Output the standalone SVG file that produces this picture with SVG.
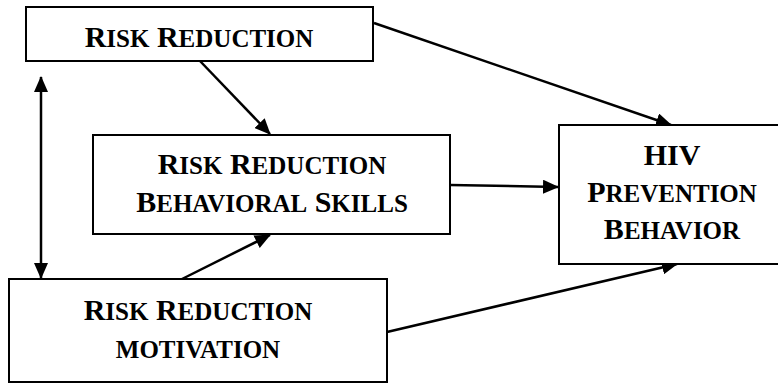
<svg xmlns="http://www.w3.org/2000/svg" width="778" height="383" viewBox="0 0 778 383">
<defs>
<style>
.box{fill:#fff;stroke:#000;stroke-width:2}
.lbl{font-family:"Liberation Serif","Times New Roman",serif;font-weight:bold;font-size:30px;fill:#000;text-anchor:middle}
.sc{font-size:25px}
.conn{stroke:#000;stroke-width:2.5;fill:none;marker-end:url(#ah)}
</style>
<marker id="ah" markerUnits="userSpaceOnUse" markerWidth="16" markerHeight="14" refX="15" refY="7" orient="auto-start-reverse" viewBox="0 0 16 14">
<path d="M0,0 L16,7 L0,14 z" fill="#000"/>
</marker>
</defs>
<rect width="778" height="383" fill="#fff"/>
<g id="connectors">
<line class="conn" x1="374" y1="23" x2="671" y2="125"/>
<line class="conn" x1="200" y1="61" x2="270" y2="134"/>
<line class="conn" x1="450" y1="185" x2="558" y2="187"/>
<line class="conn" x1="182" y1="279" x2="270" y2="235"/>
<line class="conn" x1="387" y1="332" x2="677" y2="264"/>
<line class="conn" x1="41" y1="77" x2="41" y2="278" style="marker-start:url(#ah)"/>
</g>
<g id="risk-reduction">
<rect class="box" x="26" y="7" width="347" height="54"/>
<text class="lbl" x="199" y="47">R<tspan class="sc">ISK</tspan> R<tspan class="sc">EDUCTION</tspan></text>
</g>
<g id="behavioral-skills">
<rect class="box" x="93" y="135" width="357" height="99"/>
<text class="lbl" x="272" y="174">R<tspan class="sc">ISK</tspan> R<tspan class="sc">EDUCTION</tspan></text>
<text class="lbl" x="272" y="212">B<tspan class="sc">EHAVIORAL</tspan> S<tspan class="sc">KILLS</tspan></text>
</g>
<g id="motivation">
<rect class="box" x="9" y="279" width="378" height="103"/>
<text class="lbl" x="198" y="320">R<tspan class="sc">ISK</tspan> R<tspan class="sc">EDUCTION</tspan></text>
<text class="lbl sc" x="198" y="358">MOTIVATION</text>
</g>
<g id="hiv-prevention-behavior">
<rect class="box" x="559" y="125" width="226" height="139"/>
<text class="lbl" x="672" y="165">HIV</text>
<text class="lbl" x="672" y="202">P<tspan class="sc">REVENTION</tspan></text>
<text class="lbl" x="672" y="239">B<tspan class="sc">EHAVIOR</tspan></text>
</g>
</svg>
